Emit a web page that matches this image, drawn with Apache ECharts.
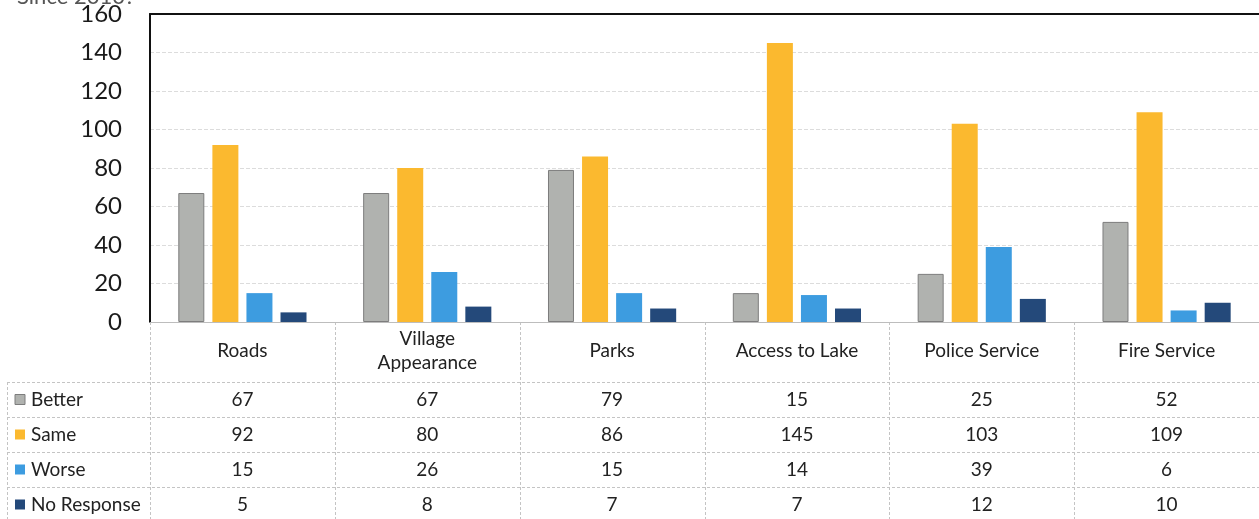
<!DOCTYPE html>
<html>
<head>
<meta charset="utf-8">
<script src="https://cdn.jsdelivr.net/npm/echarts@6/dist/echarts.min.js"></script>
<style>
html,body{margin:0;padding:0;background:#fff;}
#c{width:1259px;height:519px;}
</style>
</head>
<body>
<div id="c"></div>
<script>
const categories = ['Roads', 'Village Appearance', 'Parks', 'Access to Lake', 'Police Service', 'Fire Service'];
const better = [67, 67, 79, 15, 25, 52];
const same = [92, 80, 86, 145, 103, 109];
const worse = [15, 26, 15, 14, 39, 6];
const noResponse = [5, 8, 7, 7, 12, 10];
const seriesNames = ['Better', 'Same', 'Worse', 'No Response'];
const yTicks = [0, 20, 40, 60, 80, 100, 120, 140, 160];

const colors = ['#b0b2af', '#fbb92f', '#3d9ce0', '#24497a'];
const seriesData = [better, same, worse, noResponse];
const FONT = 'Lato, "Open Sans", sans-serif';

const chart = echarts.init(document.getElementById('c'), null, {renderer: 'canvas'});

const GL = 150, GT = 14, GW = 1116, GH = 308;

chart.setOption({
  animation: false,
  title: {
    text: 'Since 2010?', left: 12, top: -19,
    textStyle: {fontFamily: FONT, fontSize: 22, fontWeight: 'normal', color: '#555'}
  },
  grid: {left: GL, top: GT, width: GW, height: GH, containLabel: false},
  xAxis: [{
    type: 'category', data: categories,
    axisLine: {show: true, lineStyle: {color: '#bdbdbd', width: 1}},
    axisTick: {show: false},
    axisLabel: {
      fontFamily: FONT, fontSize: 19, color: '#222', lineHeight: 24,
      verticalAlign: 'middle', margin: 29, interval: 0,
      formatter: v => v.replace('Village ', 'Village\n')
    },
    splitLine: {show: false}
  }, {
    type: 'category', data: categories, position: 'top',
    axisLine: {show: true, lineStyle: {color: '#111', width: 2}},
    axisTick: {show: false}, axisLabel: {show: false}
  }],
  yAxis: {
    type: 'value', min: yTicks[0], max: yTicks[yTicks.length - 1], interval: 20,
    axisLine: {show: true, lineStyle: {color: '#111', width: 2}},
    axisTick: {show: false},
    axisLabel: {fontFamily: FONT, fontSize: 24, color: '#1a1a1a', margin: 28},
    splitLine: {show: true, lineStyle: {color: '#dcdcdc', type: [4, 2], width: 1}}
  },
  series: seriesNames.map((name, i) => ({
    name, type: 'bar', data: seriesData[i], barWidth: 26, barGap: '31%',
    itemStyle: i === 0 ? {color: colors[i], borderColor: '#7d7d7d', borderWidth: 1} : {color: colors[i]}
  }))
});

// data table below the axis
function buildTable() {
  const els = [];
  const x0 = chart.convertToPixel({xAxisIndex: 0}, 0);
  const x1 = chart.convertToPixel({xAxisIndex: 0}, 1);
  const cw = x1 - x0;
  const left = x0 - cw / 2;
  const axisY = chart.convertToPixel({yAxisIndex: 0}, 0);
  const rowTop = 382, rowH = 35, tableLeft = 7;
  const lineStyle = {stroke: '#c4c4c4', lineWidth: 1, lineDash: [3, 2]};
  for (let k = 0; k <= categories.length; k++) {
    const x = Math.round(left + k * cw) + 0.5;
    els.push({type: 'line', shape: {x1: x, y1: axisY, x2: x, y2: 519}, style: lineStyle, silent: true});
  }
  els.push({type: 'line', shape: {x1: tableLeft + 0.5, y1: rowTop, x2: tableLeft + 0.5, y2: 519}, style: lineStyle, silent: true});
  for (let r = 0; r < seriesNames.length; r++) {
    const y = rowTop + r * rowH + 0.5;
    els.push({type: 'line', shape: {x1: tableLeft, y1: y, x2: 1259, y2: y}, style: lineStyle, silent: true});
  }
  seriesNames.forEach((name, r) => {
    const cy = rowTop + r * rowH + rowH / 2;
    els.push({type: 'rect', shape: {x: 15, y: cy - 5, width: 10, height: 10},
      style: {fill: colors[r], stroke: r === 0 ? '#7d7d7d' : null, lineWidth: 1}, silent: true});
    els.push({type: 'text', x: 31, y: cy,
      style: {text: name, fontFamily: FONT, fontSize: 19, fill: '#222', textVerticalAlign: 'middle', textAlign: 'left'}, silent: true});
    seriesData[r].forEach((v, c) => {
      const cx = chart.convertToPixel({xAxisIndex: 0}, c);
      els.push({type: 'text', x: cx, y: cy,
        style: {text: String(v), fontFamily: FONT, fontSize: 19, fill: '#222', textAlign: 'center', textVerticalAlign: 'middle'}, silent: true});
    });
  });
  chart.setOption({graphic: {elements: els}});
}
buildTable();
</script>
</body>
</html>
